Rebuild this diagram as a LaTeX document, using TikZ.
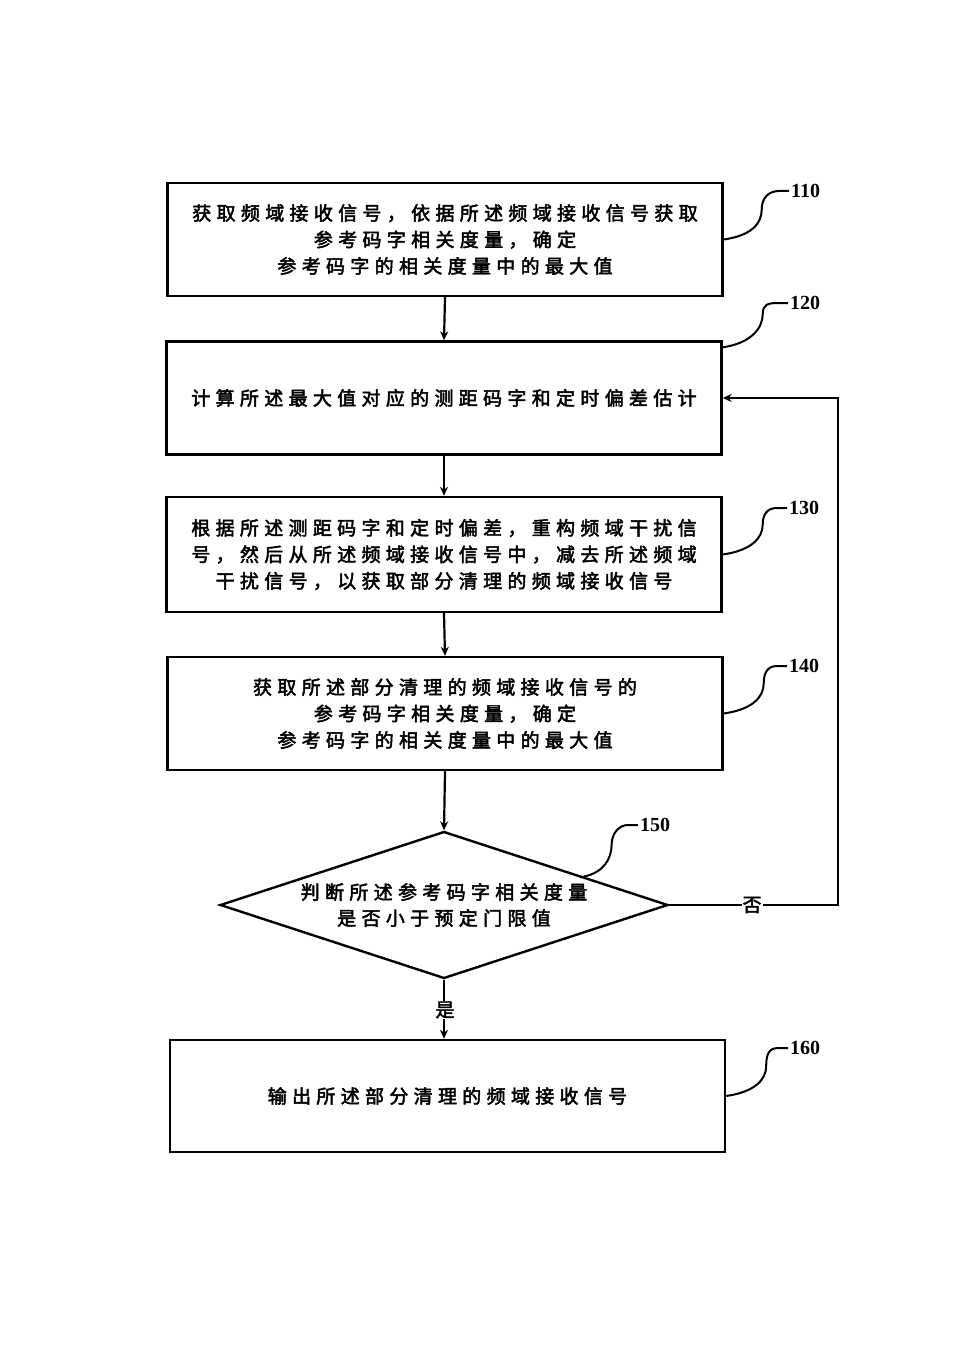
\documentclass[tikz,border=0pt]{standalone}
\usepackage{fontspec}
\setmainfont{Liberation Serif}
\newfontfamily\cjk[LetterSpace=28,FakeBold=2.5]{Noto Sans CJK SC}
\usetikzlibrary{shapes.geometric,arrows.meta,calc}
\begin{document}
\begin{tikzpicture}[x=1pt,y=-1pt,
  box/.style={draw,line width=2.4pt,minimum width=555pt,minimum height=113pt,inner sep=0pt,align=center,font=\cjk\fontsize{19}{26.5}\selectfont},
  dec/.style={draw,line width=2.4pt,diamond,aspect=3.05,minimum width=448pt,minimum height=147pt,inner sep=0pt,align=center,font=\cjk\fontsize{19}{26}\selectfont},
  flow/.style={line width=2.2pt,-{Stealth[length=9pt,width=8pt]}},
  lead/.style={line width=2pt},
  num/.style={anchor=west,inner sep=0pt,font=\bfseries\fontsize{20}{20}\selectfont},
  yn/.style={fill=white,inner sep=1pt,font=\cjk\fontsize{19}{19}\selectfont}]
\useasboundingbox (0,0) rectangle (954,1364);
\fill[white] (0,0) rectangle (954,1364);

\node[box] (b110) at (445,239.5) {获取频域接收信号，依据所述频域接收信号获取\\参考码字相关度量，确定\\参考码字的相关度量中的最大值};
\node[box] (b120) at (444,398) {计算所述最大值对应的测距码字和定时偏差估计};
\node[box,minimum height=115pt] (b130) at (444,554.5) {根据所述测距码字和定时偏差，重构频域干扰信\\号，然后从所述频域接收信号中，减去所述频域\\干扰信号，以获取部分清理的频域接收信号};
\node[box] (b140) at (445,713.5) {获取所述部分清理的频域接收信号的\\参考码字相关度量，确定\\参考码字的相关度量中的最大值};
\node[dec] (d150) at (444,905) {判断所述参考码字相关度量\\是否小于预定门限值};
\node[box,minimum height=112pt] (b160) at (447.5,1096) {输出所述部分清理的频域接收信号};

\draw[flow] (b110.south) -- (b120.north);
\draw[flow] (b120.south) -- (b130.north);
\draw[flow] (b130.south) -- (b140.north);
\draw[flow] (b140.south) -- (d150.north);
\draw[flow] (d150.south) -- (d150.south |- b160.north);
\coordinate (fb) at (838,905);
\draw[flow] (d150.east) -- (fb) |- (b120.east);
\node[yn] (no) at (752,905) {否};
\node[yn] (yes) at (445,1010) {是};

\node[num] (l110) at (791,191) {110};
\node[num] (l120) at (790,303) {120};
\node[num] (l130) at (789,508) {130};
\node[num] (l140) at (789,666) {140};
\node[num] (l150) at (640,825) {150};
\node[num] (l160) at (790,1048) {160};

\draw[lead] (b110.east) .. controls +(28,-4) and +(0,14) .. ++(38,-30) .. controls +(0,-12) and +(-10,0) .. ($(l110.west)+(-12,0)$) -- ($(l110.west)+(-2,0)$);
\draw[lead] ($(b120.north east)+(0,7)$) .. controls +(28,-4) and +(0,14) .. ++(40,-33) .. controls +(0,-10) and +(-10,0) .. ($(l120.west)+(-12,0)$) -- ($(l120.west)+(-2,0)$);
\draw[lead] (b130.east) .. controls +(28,-4) and +(0,14) .. ++(40,-30) .. controls +(0,-10) and +(-10,0) .. ($(l130.west)+(-12,0)$) -- ($(l130.west)+(-2,0)$);
\draw[lead] (b140.east) .. controls +(28,-4) and +(0,14) .. ++(40,-30) .. controls +(0,-10) and +(-10,0) .. ($(l140.west)+(-12,0)$) -- ($(l140.west)+(-2,0)$);
\draw[lead] ($(d150.north)!0.62!(d150.east)$) .. controls +(20,-4) and +(0,14) .. ++(28,-32) .. controls +(0,-10) and +(-10,0) .. ($(l150.west)+(-12,0)$) -- ($(l150.west)+(-2,0)$);
\draw[lead] (b160.east) .. controls +(28,-4) and +(0,14) .. ++(40,-30) .. controls +(0,-10) and +(-10,0) .. ($(l160.west)+(-12,0)$) -- ($(l160.west)+(-2,0)$);
\end{tikzpicture}
\end{document}
